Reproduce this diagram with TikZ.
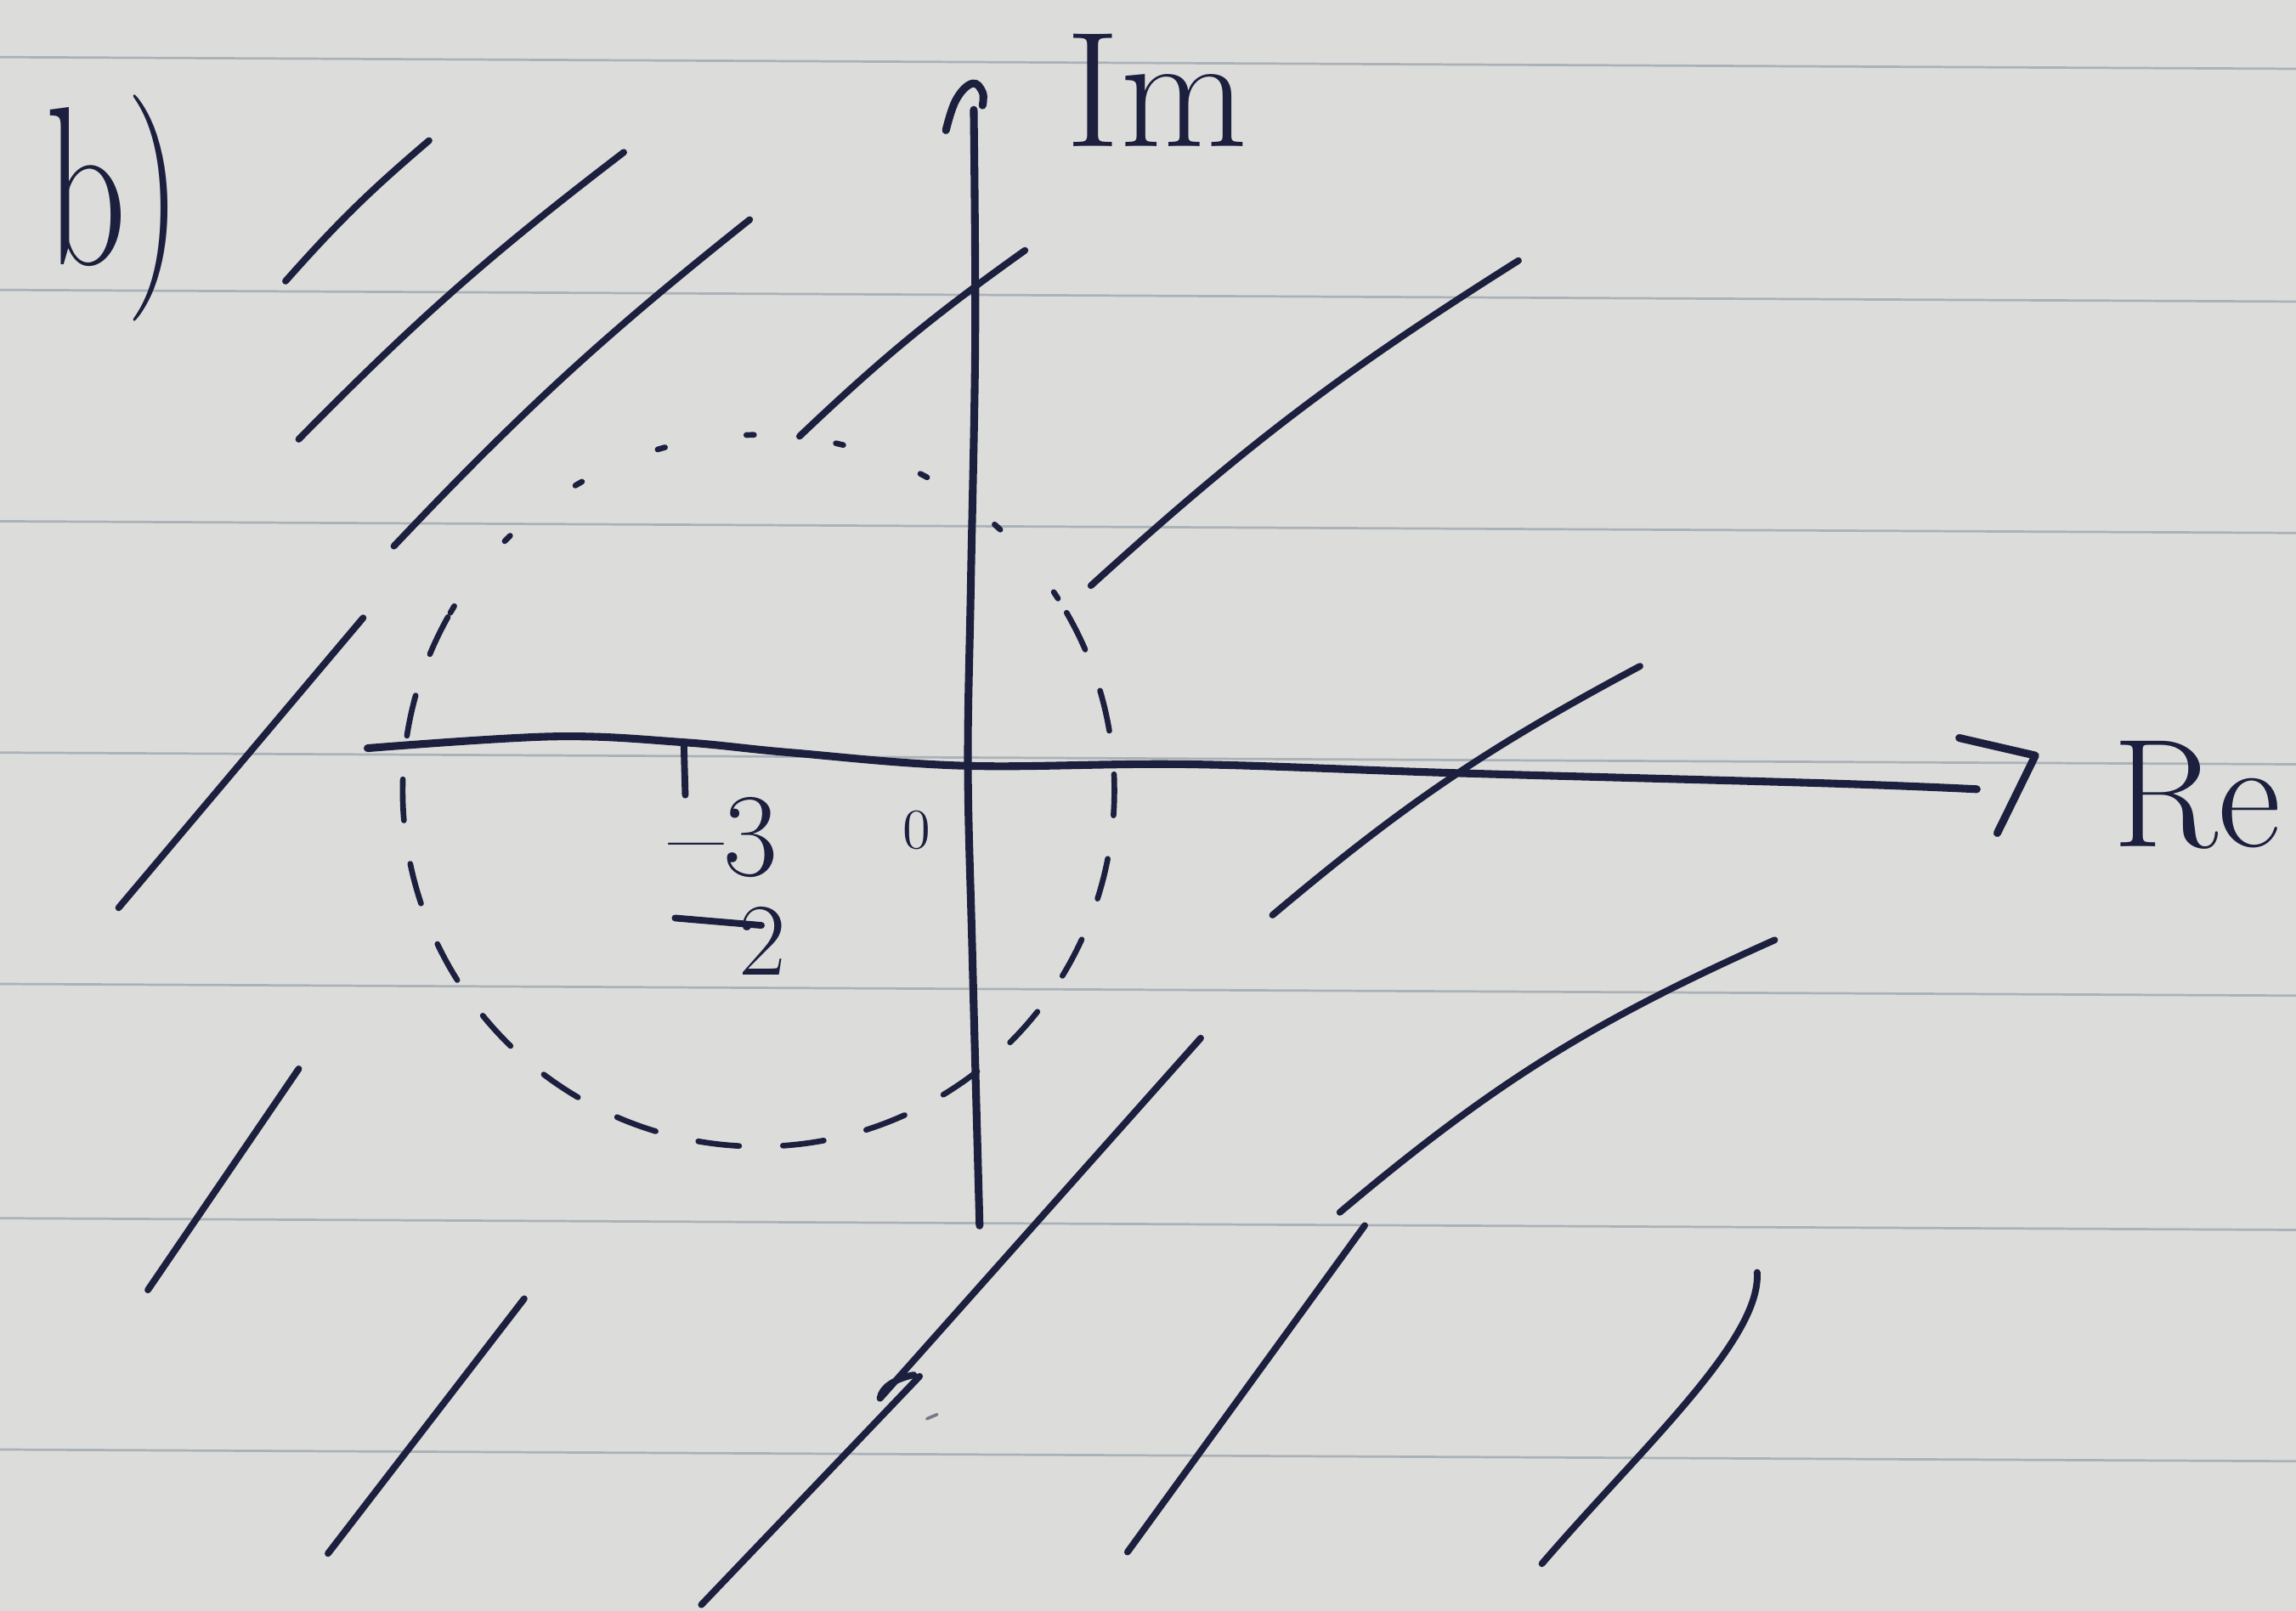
\documentclass[tikz,border=0pt]{standalone}
\usepackage{tikz}
\definecolor{paper}{RGB}{220,221,218}
\definecolor{rulec}{RGB}{170,178,184}
\definecolor{ink}{RGB}{28,32,62}
\tikzset{
  pen/.style={draw=ink, line width=1.3pt, line cap=round, line join=round},
  axispen/.style={pen, line width=1.5pt},
  ruleline/.style={draw=rulec, line width=0.45pt},
  dashcirc/.style={draw=ink, line width=1.1pt, line cap=round, dash pattern=on 8pt off 8.5pt},
  dotcirc/.style={draw=ink, line width=1.1pt, line cap=round, dash pattern=on 1.5pt off 16pt},
  lbl/.style={text=ink, inner sep=0pt, outer sep=0pt}
}
\begin{document}
\begin{tikzpicture}[x=0.01cm, y=-0.01cm]
\useasboundingbox (0,0) rectangle (1568,1100);
\fill[paper] (0,0) rectangle (1568,1100);
% ruled paper
\foreach \yy in {39,198,356,514,672,832,990} \draw[ruleline] (0,\yy) -- (1568,\yy+8);

% dashed circle
\coordinate (c) at (518,540);
\draw[dotcirc] (c) ++(-150:243) arc (-150:-30:243);
\draw[dashcirc] (c) ++(-30:243) arc (-30:210:243);

% real axis
\coordinate (reS) at (251,511);
\coordinate (reE) at (1350,539);
\draw[axispen] plot[smooth, tension=0.6] coordinates {(251,511) (378,503) (467,507) (540,514) (659,523) (812,522) (995,528) (1248,535) (1350,539)};
\coordinate (ahA) at (1338,504);
\coordinate (ahB) at (1390,516);
\coordinate (ahC) at (1364,569);
\draw[axispen] (ahA) -- (ahB) -- (ahC);
% tick at -3/2
\coordinate (tkA) at (467,508);
\coordinate (tkB) at (468,543);
\draw[pen] (tkA) -- (tkB);

% imaginary axis
\draw[axispen] plot[smooth, tension=0.6] coordinates {(669,837) (664,650) (661,523) (663,400) (666,232) (665,75)};
\draw[axispen] plot[smooth, tension=0.7] coordinates {(646,89) (653,68) (664,57) (671,63) (671,72)};

% hatching strokes
\draw[pen] (195,192) to[bend left=4] (293,96);
\draw[pen] (204,300) to[bend left=4] (426,104);
\draw[pen] (269,373) to[bend left=4] (512,150);
\draw[pen] (546,298) to[bend left=4] (700,171);
\draw[pen] (745,400) to[bend left=5] (1037,178);
\draw[pen] (81,620) -- (248,422);
\draw[pen] (869,625) to[bend left=6] (1120,455);
\draw[pen] (915,828) to[bend left=8] (1212,642);
\draw[pen] (101,881) -- (204,730);
\draw[pen] (820,709) -- (601,955) .. controls (602,948) and (610,942) .. (624,939);
\draw[pen] (224,1061) -- (358,887);
\draw[pen] (628,940) -- (479,1096);
\draw[pen] (770,1060) -- (932,837);
\draw[pen] (1053,1068) .. controls (1120,990) and (1203,915) .. (1200,869);
\draw[pen, line width=0.6pt, draw=ink!60] (633,969) -- (640,966);

% labels
\node[lbl, anchor=base west, font=\fontsize{44}{44}\selectfont, xscale=0.7] (bl) at (31,181) {b)};
\node[lbl, anchor=base west, font=\fontsize{32}{32}\selectfont] (im) at (728,100) {Im};
\node[lbl, anchor=base west, font=\fontsize{30}{30}\selectfont] (re) at (1443,578) {Re};
\node[lbl, font=\fontsize{11}{11}\selectfont] (zero) at (626,567) {0};
\node[lbl, anchor=base, font=\fontsize{23}{23}\selectfont] (num) at (494,598) {\textendash 3};
\coordinate (barA) at (461,627);
\coordinate (barB) at (520,632);
\draw[pen] (barA) -- (barB);
\node[lbl, anchor=base, font=\fontsize{20}{20}\selectfont] (den) at (521,666) {2};
\end{tikzpicture}
\end{document}
